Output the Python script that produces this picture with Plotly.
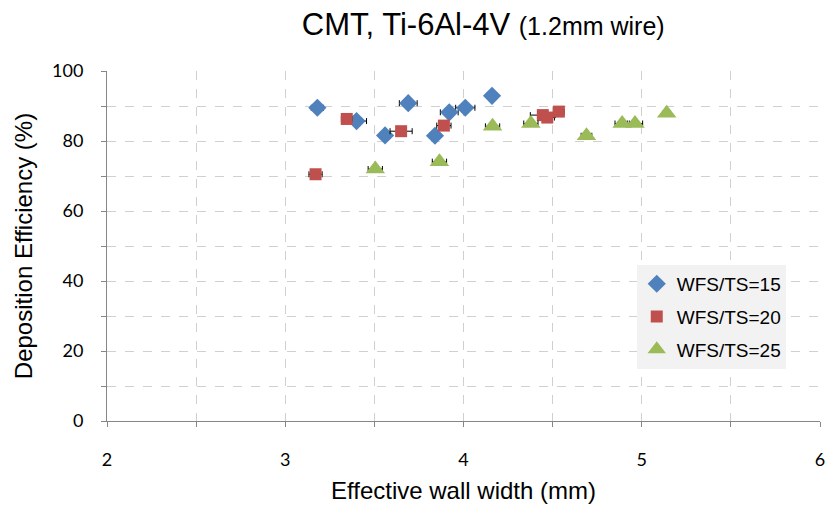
import plotly.graph_objects as go

# WFS/TS = 15
x15 = [3.18, 3.40, 3.56, 3.69, 3.84, 3.92, 4.01, 4.16]
y15 = [89.5, 85.7, 81.6, 90.8, 81.5, 88.2, 89.5, 92.9]
e15 = [0.034, 0.056, 0.03, 0.05, 0.03, 0.05, 0.054, 0.03]
# WFS/TS = 20
x20 = [3.17, 3.345, 3.65, 3.89, 4.445, 4.47, 4.535]
y20 = [70.5, 86.3, 82.8, 84.4, 87.4, 86.7, 88.4]
e20 = [0.037, 0.03, 0.062, 0.04, 0.07, 0.04, 0.03]
# WFS/TS = 25
x25 = [3.505, 3.865, 4.163, 4.378, 4.69, 4.89, 4.962, 5.14]
y25 = [72.0, 74.1, 84.2, 85.0, 81.5, 85.0, 85.0, 87.9]
e25 = [0.04, 0.04, 0.04, 0.04, 0.03, 0.04, 0.043, 0.02]

names = ["WFS/TS=15", "WFS/TS=20", "WFS/TS=25"]
colors = ["#4F81BD", "#C0504D", "#9BBB59"]
symbols = ["diamond", "square", "triangle-up"]
sizes = [14, 12, 17]

fig = go.Figure()
for i, (xs, ys, es) in enumerate([(x15, y15, e15), (x20, y20, e20), (x25, y25, e25)]):
    fig.add_trace(go.Scatter(
        x=xs, y=ys, mode="markers", name=names[i], legendgroup=names[i],
        marker=dict(symbol=symbols[i], size=sizes[i], color=colors[i]),
        error_x=dict(type="data", array=es, visible=True, color="black", thickness=1, width=3),
    ))

grid = dict(showgrid=True, gridcolor="#D0D0D0", griddash="dash", gridwidth=1)
fig.update_layout(
    width=826, height=510,
    margin=dict(l=107, r=6, t=71, b=89, autoexpand=False),
    paper_bgcolor="white", plot_bgcolor="white",
    title=dict(
        text="CMT, Ti-6Al-4V <span style='font-size:25px'>(1.2mm wire)</span>",
        x=0.585, xanchor="center", y=0.952, yanchor="middle",
        font=dict(family="Liberation Sans, Arial", size=31, color="black"),
    ),
    xaxis=dict(
        range=[2, 6], dtick=1, tick0=2, ticks="outside", ticklen=5, tickcolor="#868686",
        showline=True, linecolor="#868686", linewidth=1, zeroline=False, automargin=False,
        ticklabelstandoff=17,
        tickfont=dict(family="Lato, Open Sans, sans-serif", size=18, color="black"),
        title=dict(text="Effective wall width (mm)",
                   font=dict(family="Liberation Sans, Arial", size=24, color="black"),
                   standoff=13),
        minor=dict(dtick=0.5, ticks="outside", ticklen=5, tickcolor="#868686",
                   showgrid=True, gridcolor="#D0D0D0", griddash="dash"),
        **grid,
    ),
    yaxis=dict(
        range=[0, 100], dtick=20, ticks="outside", ticklen=5, tickcolor="#868686",
        showline=True, linecolor="#868686", linewidth=1, zeroline=False, automargin=False,
        ticklabelstandoff=14,
        tickfont=dict(family="Lato, Open Sans, sans-serif", size=18, color="black"),
        title=dict(text="Deposition Efficiency (%)",
                   font=dict(family="Liberation Sans, Arial", size=24, color="black"),
                   standoff=12),
        minor=dict(dtick=10, ticks="outside", ticklen=5, tickcolor="#868686",
                   showgrid=True, gridcolor="#D0D0D0", griddash="dash"),
        **grid,
    ),
    legend=dict(
        x=0.743, y=0.446, xanchor="left", yanchor="top",
        bgcolor="#F2F2F2", borderwidth=0, tracegroupgap=5,
        font=dict(family="Liberation Sans, Arial", size=19, color="black"),
        itemwidth=30,
    ),
)

fig.write_html("out.html", config={"displayModeBar": False},
               post_script="document.body.style.margin='0';")
